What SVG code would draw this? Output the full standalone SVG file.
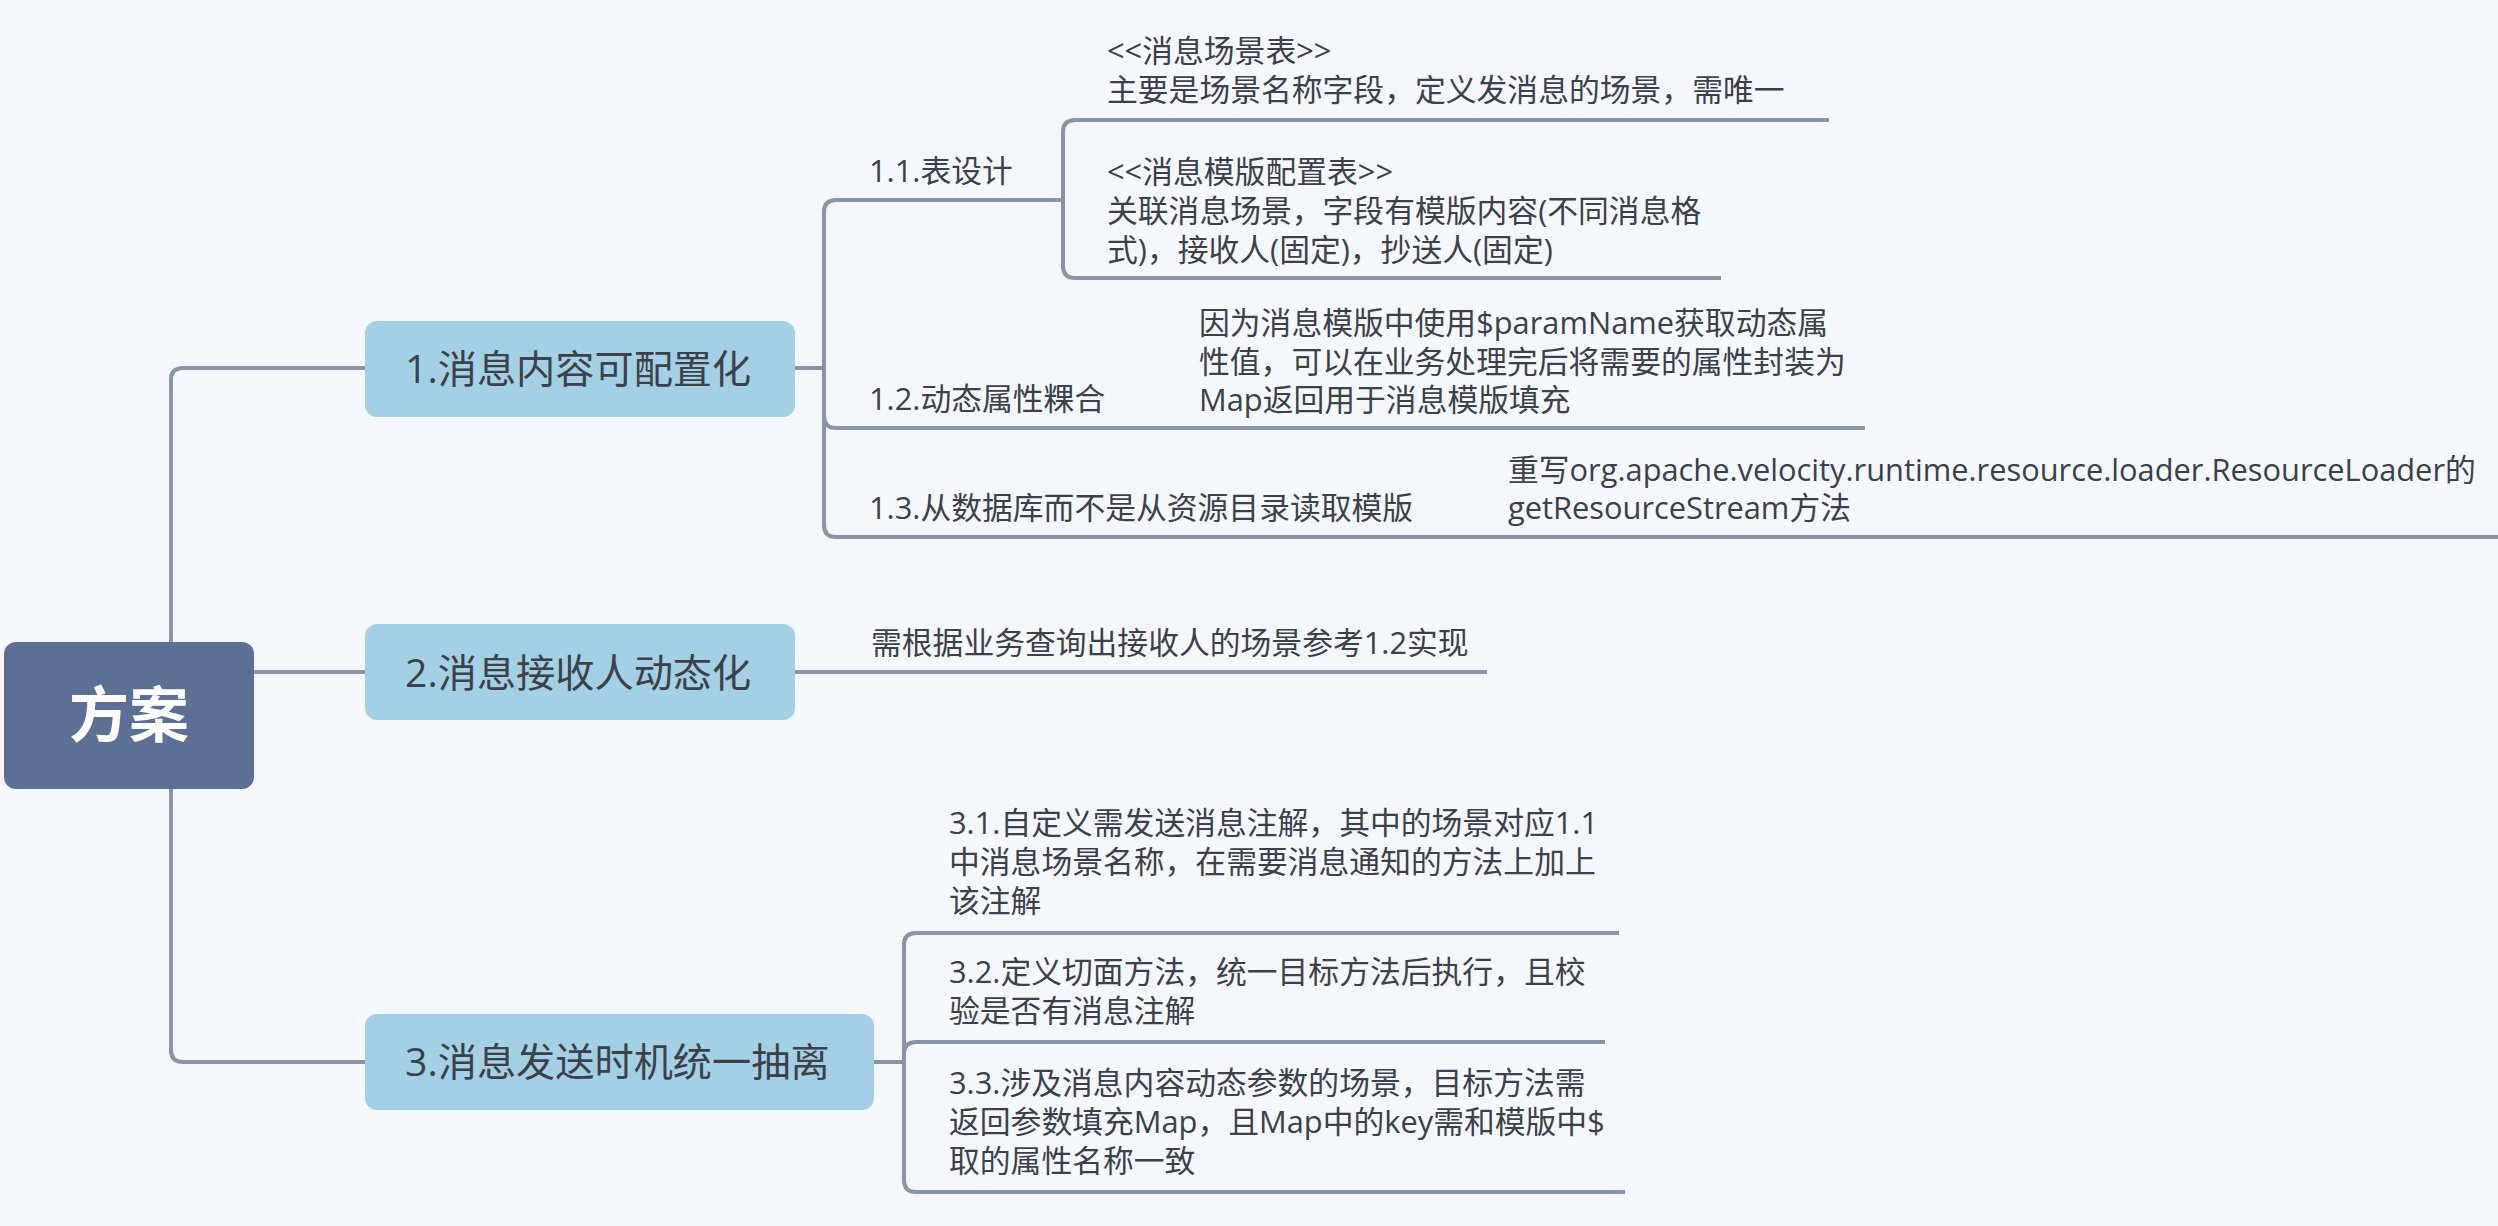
<svg xmlns="http://www.w3.org/2000/svg" width="2498" height="1226" viewBox="0 0 2498 1226">
<style>
.bg{fill:#f4f8fd}
.root{fill:#5c7096}
.main{fill:#a3d0e4}
.ln{fill:none;stroke:#8a94a6;stroke-width:4;stroke-linecap:butt}
text{font-family:"Open Sans","Noto Sans CJK SC",sans-serif;fill:#3c4049}
.rt{font-size:60px;fill:#ffffff;text-anchor:middle;font-weight:bold}
.mt{font-size:39.2px}
.st{font-size:30.8px}
</style>
<rect class="bg" x="0" y="0" width="2498" height="1226"/>
<g id="connectors">
<path class="ln" d="M171,642 V380 Q171,368 183,368 H365"/>
<path class="ln" d="M254,672 H365"/>
<path class="ln" d="M171,789 V1050 Q171,1062 183,1062 H365"/>
<path class="ln" d="M795,368 H824"/>
<path class="ln" d="M824,368 V212 Q824,200 836,200 H1063"/>
<path class="ln" d="M824,368 V416 Q824,428 836,428 H1865"/>
<path class="ln" d="M824,368 V525 Q824,537 836,537 H2498"/>
<path class="ln" d="M1063,200 V132 Q1063,120 1075,120 H1829"/>
<path class="ln" d="M1063,200 V266 Q1063,278 1075,278 H1721"/>
<path class="ln" d="M795,672 H1487"/>
<path class="ln" d="M874,1062 H904"/>
<path class="ln" d="M904,1062 V945 Q904,933 916,933 H1619"/>
<path class="ln" d="M904,1062 V1054 Q904,1042 916,1042 H1605"/>
<path class="ln" d="M904,1062 V1180 Q904,1192 916,1192 H1625"/>
</g>
<g id="root">
<rect class="root" x="4" y="642" width="250" height="147" rx="12"/>
<text class="rt" x="129" y="737">方案</text>
</g>
<g id="n1">
<rect class="main" x="365" y="321" width="430" height="96" rx="12"/>
<text class="mt" x="405" y="383">1.消息内容可配置化</text>
</g>
<g id="n2">
<rect class="main" x="365" y="624" width="430" height="96" rx="12"/>
<text class="mt" x="405" y="687">2.消息接收人动态化</text>
</g>
<g id="n3">
<rect class="main" x="365" y="1014" width="509" height="96" rx="12"/>
<text class="mt" x="405" y="1076">3.消息发送时机统一抽离</text>
</g>
<g id="n1-1">
<text class="st" x="869" y="182">1.1.表设计</text>
</g>
<g id="n1-1-1">
<text class="st" x="1107" y="62">&lt;&lt;消息场景表&gt;&gt;</text>
<text class="st" x="1107" y="101">主要是场景名称字段，定义发消息的场景，需唯一</text>
</g>
<g id="n1-1-2">
<text class="st" x="1107" y="183">&lt;&lt;消息模版配置表&gt;&gt;</text>
<text class="st" x="1107" y="222">关联消息场景，字段有模版内容(不同消息格</text>
<text class="st" x="1107" y="261">式)，接收人(固定)，抄送人(固定)</text>
</g>
<g id="n1-2">
<text class="st" x="869" y="410">1.2.动态属性粿合</text>
</g>
<g id="n1-2-1">
<text class="st" x="1199" y="334">因为消息模版中使用$paramName获取动态属</text>
<text class="st" x="1199" y="373">性值，可以在业务处理完后将需要的属性封装为</text>
<text class="st" x="1199" y="411">Map返回用于消息模版填充</text>
</g>
<g id="n1-3">
<text class="st" x="869" y="519">1.3.从数据库而不是从资源目录读取模版</text>
</g>
<g id="n1-3-1">
<text class="st" x="1508" y="481">重写org.apache.velocity.runtime.resource.loader.ResourceLoader的</text>
<text class="st" x="1508" y="519">getResourceStream方法</text>
</g>
<g id="n2-1">
<text class="st" x="871" y="654">需根据业务查询出接收人的场景参考1.2实现</text>
</g>
<g id="n3-1">
<text class="st" x="949" y="834">3.1.自定义需发送消息注解，其中的场景对应1.1</text>
<text class="st" x="949" y="873">中消息场景名称，在需要消息通知的方法上加上</text>
<text class="st" x="949" y="912">该注解</text>
</g>
<g id="n3-2">
<text class="st" x="949" y="983">3.2.定义切面方法，统一目标方法后执行，且校</text>
<text class="st" x="949" y="1022">验是否有消息注解</text>
</g>
<g id="n3-3">
<text class="st" x="949" y="1094">3.3.涉及消息内容动态参数的场景，目标方法需</text>
<text class="st" x="949" y="1133">返回参数填充Map，且Map中的key需和模版中$</text>
<text class="st" x="949" y="1172">取的属性名称一致</text>
</g>
</svg>
